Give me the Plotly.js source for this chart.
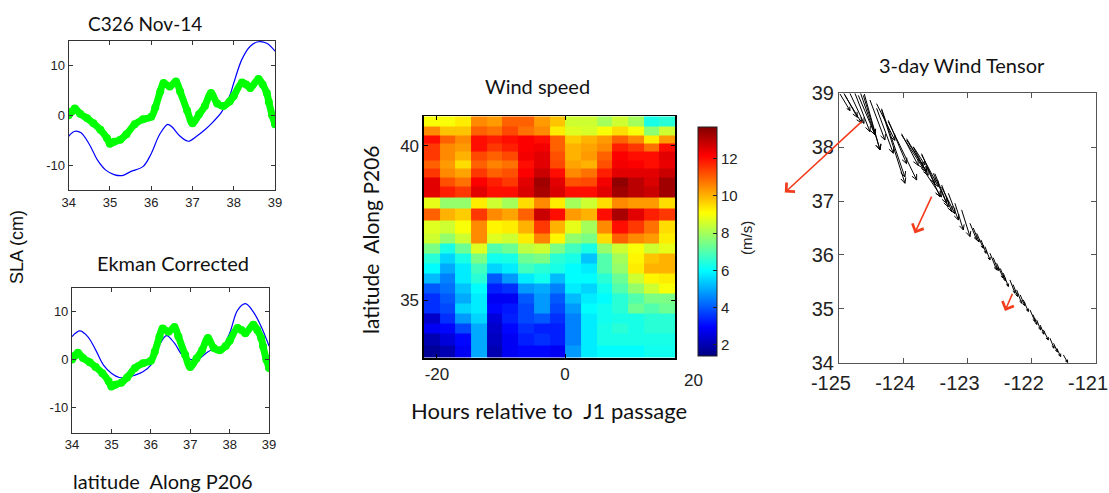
<!DOCTYPE html>
<html><head><meta charset="utf-8">
<script src="https://cdn.plot.ly/plotly-3.0.1.min.js"></script>
<style>html,body{margin:0;padding:0;background:#fff}#chart{width:1109px;height:493px}</style>
</head><body><div id="chart"></div>
<script>
// ---------- SLA panels (latitude along P206) ----------
const latObs = [34.0,34.08,34.15,34.28,34.45,34.6,34.77,34.93,35.0,35.1,35.25,35.4,35.6,35.8,36.0,36.1,36.22,36.3,36.45,36.6,36.7,36.87,37.0,37.16,37.3,37.45,37.6,37.75,37.9,38.0,38.2,38.3,38.4,38.6,38.7,38.8,38.85,38.93,39.0];
const slaObs = [0,0.8,1.4,0.3,-0.6,-1.6,-2.9,-4.6,-5.7,-5.3,-4.9,-3.8,-1.8,-0.8,-0.3,1.6,4.8,6.5,5.8,6.8,4.8,1.0,-1.6,0.2,1.9,4.5,2.4,1.9,2.8,3.9,6.6,6.2,5.5,7.3,6.2,4.5,2.7,0,-1.8];
const latModelTop = [34.0,34.15,34.3,34.5,34.7,34.9,35.1,35.3,35.5,35.8,36.0,36.2,36.4,36.5,36.7,36.9,37.1,37.3,37.5,37.7,37.9,38.0,38.2,38.4,38.6,38.8,39.0];
const slaModelTop = [-4.2,-3.2,-3.5,-5.8,-9,-11,-11.9,-12.1,-11.3,-10.3,-7.7,-3.9,-1.8,-2.3,-4.2,-5.2,-4.2,-2.9,-1.3,0.6,3.9,6.5,11.3,13.9,14.8,14.5,12.9];
const latModelCorr = [34.0,34.2,34.4,34.6,34.8,35.0,35.2,35.4,35.6,35.8,36.0,36.2,36.4,36.6,36.8,37.0,37.2,37.4,37.6,37.8,38.0,38.2,38.4,38.6,38.8,39.0];
const slaModelCorr = [4.8,6.0,4.8,2.0,-1.2,-2.9,-3.8,-3.8,-3.3,-2.6,-1.2,2.7,5.0,3.4,0.9,0,0,1.3,2.3,2.5,5.5,10.3,11.7,10,6.9,2.8];
const slaTicks = [-10,0,10];
const latTicks = [34,35,36,37,38,39];

// ---------- Wind speed heatmap ----------
const hours = [-20.8,-18.35,-15.9,-13.45,-11,-8.55,-6.1,-3.65,-1.2,1.25,3.7,6.15,8.6,11.05,13.5,15.95];
const windLat = [33.33,33.73,34.08,34.41,34.73,35.06,35.38,35.71,36.03,36.36,36.68,36.98,37.37,37.80,38.15,38.52,38.83,39.13,39.40,39.68,39.95,40.22,40.49,40.80];
const windSpeed = [
 [1.7,2,2.8,5,2,2.8,3,3,2.8,4.8,5.8,6,6,6,6.2,6.2],
 [2,2.5,3,5,2.2,2.8,3.3,3.5,3.3,4.5,5.8,6.3,6.3,6.3,6.3,6.3],
 [2.8,3,3.8,5,2.3,3,3.5,3.3,3.3,4.5,5.8,6.3,6.5,6.3,6.5,6.5],
 [2.3,3.5,4.8,5.5,2.5,3.3,3.8,4,3.5,4.5,5.8,6.2,6.3,6.3,6.5,6.5],
 [3.5,3.8,5.5,5.8,3,3.2,3.8,4.8,3.8,4.8,6,6.2,6.5,7.3,7,7.3],
 [3.5,4,5,5.8,2.8,2.8,4,4.8,4,5.2,5.8,6,6.5,7,7.5,7.5],
 [4,4.3,5.3,6,3.3,3.5,4.8,5,4.5,5.8,5.5,6.2,7,7.8,8.5,9],
 [5.2,4.5,5.8,6.5,4,4.8,5.8,6.2,5.2,6,6,6.5,7.3,8.5,9.2,9.3],
 [6,5,5.8,6.8,5.5,5.8,6.8,6.5,6.3,6,5.8,7,7.8,9.3,10,10],
 [6.5,5.5,6.3,7.5,6.2,6.3,7.3,7.5,6.5,6.3,5.3,7,8,9.2,9.8,10],
 [7.5,6.3,7.3,8.7,7,7.3,8.3,8.5,7.5,6.8,6.3,7.8,8.5,9,8.5,8.8],
 [8.5,7.8,8.5,10.5,8.7,8.5,9.3,10.6,9.2,7.8,7.5,9.5,11,10.5,10.3,9.3],
 [8.7,8.5,9,10.5,9.2,9.3,10,11.5,10,8.8,8,10.5,12,11.5,10.8,9.5],
 [11,10,9.7,11.5,10.5,10.2,11,12.8,12,10.3,10,12,13.2,12.5,11.8,11.5],
 [8.8,7.8,7.8,9.3,8.5,8,9.5,10.5,9.3,8,8.5,9.5,10.5,10.3,10.3,9.5],
 [12.5,11.8,11.5,12.5,12,12,12.6,13.2,12.6,12,12,12.5,13.3,13,12.8,13.3],
 [12.5,11.2,10.8,12.2,11.8,11.5,12.5,13.3,12.5,11.2,11.3,12.3,13.5,13,12.6,13.3],
 [11.5,10.5,10.2,11.5,11,11.2,12.2,12.8,12,10.5,10.8,11.8,12.5,12.5,12.5,12.8],
 [11,10.3,9.5,11,10.6,10.8,12,12.5,11.3,10.2,10,11.2,12.3,12.2,12,12.4],
 [11.5,10.5,10,11.3,11,11.3,12.3,12.5,11.2,10,10.3,11,12.2,12,12,12.5],
 [11.5,10.5,10.3,12,11.5,11.8,12.2,12.3,11,10,10.2,10.5,11.8,11.5,10.8,12],
 [12,11,10.5,12,11.8,12,12.2,12,11,9.7,10,10.3,11,10.5,9.3,10.3],
 [10.5,9.8,9.8,11,10.8,11.3,10.8,10.5,9.3,8.7,8.6,9,9.5,9,7.7,8.5],
 [9,9,9.3,10.5,10.3,11,11,10.3,9.8,8.5,8.5,8,8.5,8,6.3,6.5]
];
const hourTicks = [-20,0,20];
const windLatTicks = [35,40];
const speedTicks = [2,4,6,8,10,12];

// ---------- 3-day wind tensor (quiver) ----------
const tailLon = [-124.984,-124.922,-124.829,-124.751,-124.663,-124.606,-124.518,-124.414,-124.336,-124.232,-124.025,-123.947,-123.843,-123.713,-123.636,-123.532,-123.402,-123.298,-123.195,-123.091,-122.961,-122.857,-122.728,-122.650,-122.546,-122.442,-122.339,-122.235,-122.131,-122.027,-121.924,-121.820,-121.716,-121.612,-121.508,
  -124.907,-124.699,-124.621,-124.415,-124.337,-124.233,-124.026,-123.948,-123.845,-123.715,-123.663,-123.508,-123.404,
  -122.91,-122.79,-122.60,-122.49,-122.29,-122.18,-121.98,-121.87,-121.66];
const tailLat = [38.988,39.0,39.0,39.0,39.0,38.988,38.876,38.722,38.691,38.474,38.227,38.134,38.01,37.856,37.639,37.516,37.299,37.145,36.959,36.836,36.588,36.403,36.155,36.032,35.846,35.661,35.537,35.351,35.166,34.980,34.795,34.609,34.455,34.269,34.145,
  38.962,38.962,38.962,38.808,38.715,38.499,38.251,38.159,38.004,37.881,37.541,37.510,37.263,
  36.50,36.28,35.95,35.75,35.45,35.26,34.89,34.70,34.36];
const uWind = [0.156,0.208,0.218,0.233,0.223,0.244,0.233,0.259,0.363,0.441,0.337,0.311,0.182,0.259,0.208,0.208,0.156,0.156,0.130,0.130,0.104,0.104,0.078,0.104,0.104,0.078,0.078,0.078,0.078,0.078,0.062,0.078,0.062,0.062,0.067,
  0.26,0.259,0.259,0.285,0.363,0.285,0.259,0.311,0.233,0.207,0.259,0.208,0.207,
  0.09,0.08,0.08,0.08,0.07,0.07,0.06,0.06,0.06];
const vWind = [-0.309,-0.445,-0.557,-0.711,-0.773,-1.039,-0.742,-0.835,-1.361,-1.082,-0.618,-0.588,-0.340,-0.588,-0.557,-0.557,-0.495,-0.495,-0.495,-0.495,-0.309,-0.278,-0.247,-0.309,-0.278,-0.247,-0.247,-0.247,-0.216,-0.216,-0.186,-0.186,-0.186,-0.155,-0.142,
  -0.513,-0.729,-1.007,-0.68,-1.268,-0.804,-0.587,-0.619,-0.525,-0.557,-0.464,-0.618,-0.495,
  -0.26,-0.25,-0.24,-0.23,-0.22,-0.20,-0.18,-0.17,-0.16];
const meanTailLon = [-124.647,-123.558,-122.302];
const meanTailLat = [38.474,37.083,35.277];
const meanHeadLon = [-125.866,-123.833,-122.427];
const meanHeadLat = [37.132,36.372,34.931];
const lonTicks = [-125,-124,-123,-122,-121];
const tensorLatTicks = [34,35,36,37,38,39];

// ---------- layout geometry ----------
const W = 1109, H = 493;
const dTL = {x:[0.0619,0.2480], y:[0.6146,0.9174]};
const dBL = {x:[0.0649,0.2426], y:[0.1223,0.4158]};
const dHM = {x:[0.3823,0.6087], y:[0.2738,0.7647]};
const dWT = {x:[0.7565,0.9883], y:[0.2643,0.8107]};
const hourRange = [-22.03,17.18];
const lonRange = [-125,-121], tLatRange = [34,39];

const jet = [[0,'rgb(0,0,128)'],[0.125,'rgb(0,0,255)'],[0.375,'rgb(0,255,255)'],[0.625,'rgb(255,255,0)'],[0.875,'rgb(255,0,0)'],[1,'rgb(128,0,0)']];

// quiver shafts and heads
const pxLon = (dWT.x[1]-dWT.x[0])*W/(lonRange[1]-lonRange[0]);
const pxLat = (dWT.y[1]-dWT.y[0])*H/(tLatRange[1]-tLatRange[0]);
const qx = [], qy = [];
for (let i = 0; i < tailLon.length; i++) {
  const hx = tailLon[i]+uWind[i], hy = tailLat[i]+vWind[i];
  qx.push(tailLon[i], hx, null); qy.push(tailLat[i], hy, null);
  const dxp = uWind[i]*pxLon, dyp = vWind[i]*pxLat;
  const len = Math.hypot(dxp, dyp), ang = Math.atan2(dyp, dxp);
  const L = Math.min(6, Math.max(3, 0.2*len));
  const a1 = ang + Math.PI - 0.45, a2 = ang + Math.PI + 0.45;
  qx.push(hx + L*Math.cos(a1)/pxLon, hx, hx + L*Math.cos(a2)/pxLon, null);
  qy.push(hy + L*Math.sin(a1)/pxLat, hy, hy + L*Math.sin(a2)/pxLat, null);
}

const tickFont = {family:'Liberation Sans, Arial, sans-serif', size:13, color:'#222'};
const lbl = {family:'Lato, Open Sans, sans-serif', size:20, color:'#111'};
const txt = (arr) => arr.map(v => String(v));
function frameAx(extra){
  return Object.assign({showline:true, mirror:'ticks', linecolor:'#333', linewidth:1, ticks:'inside', ticklen:4,
    tickcolor:'#333', showgrid:false, zeroline:false, tickfont:tickFont, fixedrange:true}, extra);
}

const traces = [
  {type:'scatter', x:latModelTop, y:slaModelTop, xaxis:'x', yaxis:'y', mode:'lines', line:{color:'#0000ff', width:1.2, shape:'spline'}, hoverinfo:'skip'},
  {type:'scatter', x:latObs, y:slaObs, xaxis:'x', yaxis:'y', mode:'lines+markers', line:{color:'#00ff00', width:7, shape:'spline'}, marker:{color:'#00ff00', size:8}, hoverinfo:'skip'},
  {type:'scatter', x:latModelCorr, y:slaModelCorr, xaxis:'x2', yaxis:'y2', mode:'lines', line:{color:'#0000ff', width:1.2, shape:'spline'}, hoverinfo:'skip'},
  {type:'scatter', x:latObs, y:slaObs, xaxis:'x2', yaxis:'y2', mode:'lines+markers', line:{color:'#00ff00', width:7, shape:'spline'}, marker:{color:'#00ff00', size:8}, hoverinfo:'skip'},
  {type:'heatmap', x:hours, y:windLat, z:windSpeed, xaxis:'x3', yaxis:'y3', colorscale:jet, zmin:1.4, zmax:13.7,
   colorbar:{x:698/W, xref:'paper', xanchor:'left', xpad:0, ypad:0, y:1-241.5/H, yanchor:'middle', len:229/H, lenmode:'fraction',
     thickness:19, outlinewidth:1, outlinecolor:'#222', tickvals:speedTicks, ticks:'inside', ticklen:4, tickcolor:'#222',
     tickfont:{family:'Liberation Sans, Arial, sans-serif', size:15, color:'#222'}}},
  {type:'scatter', x:qx, y:qy, xaxis:'x4', yaxis:'y4', mode:'lines', line:{color:'#000', width:1}, hoverinfo:'skip'}
];

const fracHM = (v) => dHM.x[0] + (v-hourRange[0])/(hourRange[1]-hourRange[0])*(dHM.x[1]-dHM.x[0]);

const annotations = [
  {text:'C326 Nov-14', x:145/W, y:1-23/H, font:{family:'Lato, Open Sans, sans-serif', size:19, color:'#111'}},
  {text:'Ekman Corrected', x:173/W, y:1-262.7/H},
  {text:'latitude  Along P206', x:163/W, y:1-481/H},
  {text:'SLA (cm)', x:17/W, y:1-247/H, textangle:-90, font:{family:'Liberation Sans, Arial, sans-serif', size:18, color:'#111'}},
  {text:'Wind speed', x:537/W, y:1-86/H},
  {text:'Hours relative to  J1 passage', x:549/W, y:1-410/H, font:{family:'Lato, Open Sans, sans-serif', size:22, color:'#111'}},
  {text:'latitude  Along P206', x:370/W, y:1-240/H, textangle:-90, font:{family:'Lato, Open Sans, sans-serif', size:21, color:'#111'}},
  {text:'(m/s)', x:746/W, y:1-238/H, textangle:-90, font:{family:'Liberation Sans, Arial, sans-serif', size:15, color:'#222'}},
  {text:'3-day Wind Tensor', x:961.7/W, y:1-65/H}
].map(a => Object.assign({xref:'paper', yref:'paper', showarrow:false, xanchor:'center', yanchor:'middle', font:lbl}, a));

// tick label for +20 h lies beyond the plotted hours (as in the original figure)
annotations.push({xref:'paper', yref:'paper', x:fracHM(hourTicks[2]), y:1-380/H, text:String(hourTicks[2]), showarrow:false,
  xanchor:'center', yanchor:'middle', font:{family:'Liberation Sans, Arial, sans-serif', size:17, color:'#222'}});

for (let i = 0; i < meanTailLon.length; i++) {
  annotations.push({xref:'x4', yref:'y4', axref:'x4', ayref:'y4', x:meanTailLon[i], y:meanTailLat[i], ax:meanHeadLon[i], ay:meanHeadLat[i],
    text:'', showarrow:true, arrowside:'start', arrowhead:4, startarrowhead:4, arrowsize:1.5, startarrowsize:1.5,
    arrowwidth:1.6, arrowcolor:'#f23c1c', standoff:0, startstandoff:0});
}

const hmFont = {family:'Liberation Sans, Arial, sans-serif', size:17, color:'#222'};
const wtFont = {family:'Liberation Sans Narrow, Liberation Sans, Arial, sans-serif', size:20, color:'#222'};

const layout = {
  width:W, height:H, margin:{l:0,r:0,t:0,b:0}, paper_bgcolor:'#fff', plot_bgcolor:'#fff', showlegend:false,
  xaxis: frameAx({domain:dTL.x, anchor:'y', range:[34,39], tickvals:latTicks, ticktext:txt(latTicks)}),
  yaxis: frameAx({domain:dTL.y, anchor:'x', range:[-15,15], tickvals:slaTicks, ticktext:txt(slaTicks)}),
  xaxis2: frameAx({domain:dBL.x, anchor:'y2', range:[34,39], tickvals:latTicks, ticktext:txt(latTicks)}),
  yaxis2: frameAx({domain:dBL.y, anchor:'x2', range:[-15.4,15], tickvals:slaTicks, ticktext:txt(slaTicks)}),
  xaxis3: frameAx({domain:dHM.x, anchor:'y3', range:hourRange, tickvals:hourTicks, ticktext:txt(hourTicks), linecolor:'#000', linewidth:1.5, tickcolor:'#000', tickfont:hmFont}),
  yaxis3: frameAx({domain:dHM.y, anchor:'x3', range:[33.12,40.97], tickvals:windLatTicks, ticktext:txt(windLatTicks), linecolor:'#000', linewidth:1.5, tickcolor:'#000', tickfont:hmFont}),
  xaxis4: frameAx({domain:dWT.x, anchor:'y4', range:lonRange, tickvals:lonTicks, ticktext:txt(lonTicks), linecolor:'#555', tickcolor:'#555', ticklen:5, tickfont:wtFont, ticklabeloverflow:'allow', ticklabelshift:-8, ticklabelstandoff:2}),
  yaxis4: frameAx({domain:dWT.y, anchor:'x4', range:tLatRange, tickvals:tensorLatTicks, ticktext:txt(tensorLatTicks), linecolor:'#555', tickcolor:'#555', ticklen:5, tickfont:wtFont, ticklabeloverflow:'allow'}),
  annotations: annotations
};

Plotly.newPlot('chart', traces, layout, {staticPlot:true, displayModeBar:false});
</script></body></html>
